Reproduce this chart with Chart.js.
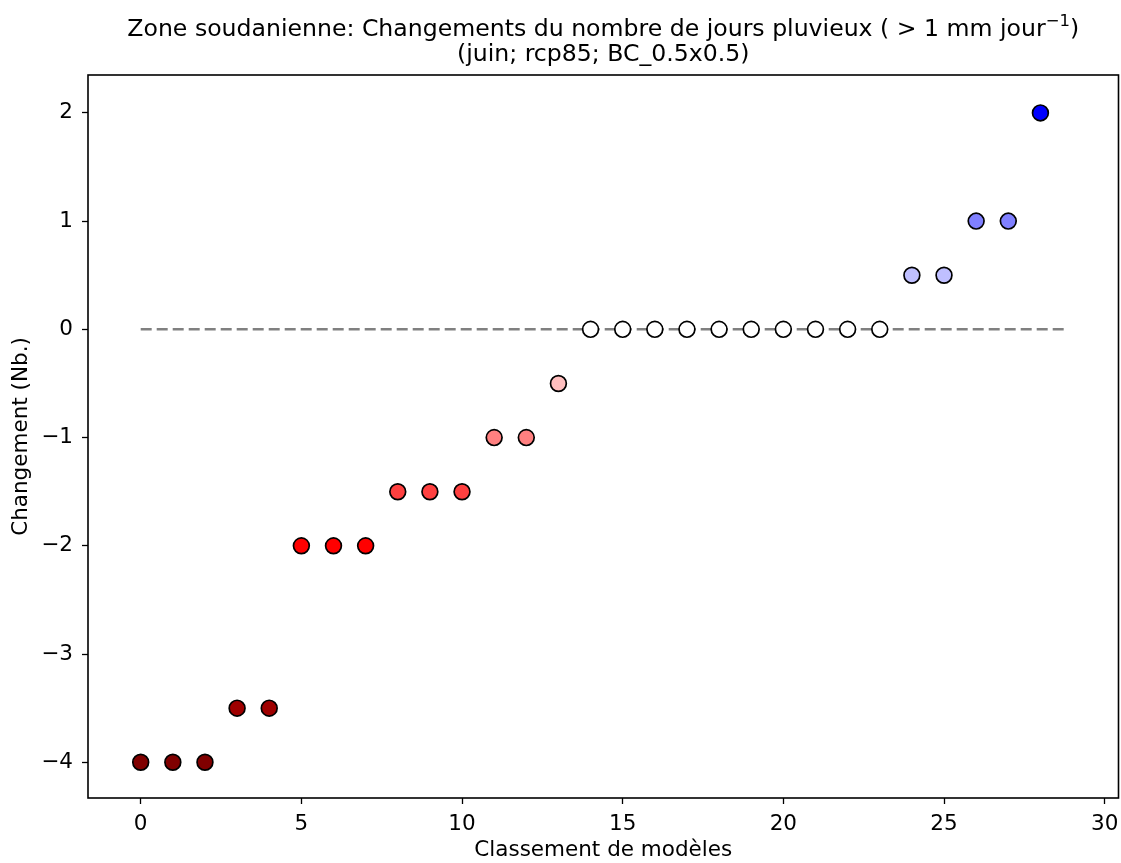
<!DOCTYPE html>
<html>
<head>
<meta charset="utf-8">
<title>Zone soudanienne</title>
<script src="https://cdn.jsdelivr.net/npm/chart.js@4"></script>
<style>
  html, body { margin: 0; padding: 0; background: white; }
  #wrap { width: 1121px; height: 863px; }
</style>
</head>
<body>
<div id="wrap"><canvas id="chart"></canvas></div>
<script>
// model rank (x) and change in number of rainy days (y)
const ranks = [0, 1, 2, 3, 4, 5, 6, 7, 8, 9, 10, 11, 12, 13, 14, 15, 16, 17, 18, 19, 20, 21, 22, 23, 24, 25, 26, 27, 28];
const changes = [-4, -4, -4, -3.5, -3.5, -2, -2, -2, -1.5, -1.5, -1.5, -1, -1, -0.5,
                 0, 0, 0, 0, 0, 0, 0, 0, 0, 0, 0.5, 0.5, 1, 1, 2];
const zeroLineX = [0, 28.88];
const xTicks = [0, 5, 10, 15, 20, 25, 30];
const yTicks = [-4, -3, -2, -1, 0, 1, 2];

// matplotlib "seismic_r", normalised on [-4, 4]
function seismicR(v) {
  let t = 1 - (v + 4) / 8;
  t = Math.max(0, Math.min(1, t));
  const r = [[0, 0], [0.25, 0], [0.5, 1], [0.75, 1], [1, 0.5]];
  const g = [[0, 0], [0.25, 0], [0.5, 1], [0.75, 0], [1, 0]];
  const b = [[0, 0.3], [0.25, 1], [0.5, 1], [0.75, 0], [1, 0]];
  function interp(seg) {
    for (let i = 0; i < seg.length - 1; i++) {
      if (t <= seg[i + 1][0]) {
        const f = (t - seg[i][0]) / (seg[i + 1][0] - seg[i][0]);
        return seg[i][1] + f * (seg[i + 1][1] - seg[i][1]);
      }
    }
    return seg[seg.length - 1][1];
  }
  return 'rgb(' + Math.round(interp(r) * 255) + ',' + Math.round(interp(g) * 255) + ',' + Math.round(interp(b) * 255) + ')';
}

const font = { family: 'DejaVu Sans', size: 21.5 };
const minus = v => String(v).replace('-', '\u2212');

// frame box + two line title (with a real superscript)
const frame = {
  id: 'frame',
  afterDraw(chart) {
    const { ctx, chartArea: a } = chart;
    ctx.save();
    ctx.strokeStyle = '#000';
    ctx.lineWidth = 1.6;
    ctx.strokeRect(a.left, a.top, a.right - a.left, a.bottom - a.top);
    ctx.fillStyle = '#000';
    ctx.textBaseline = 'alphabetic';
    const cx = (a.left + a.right) / 2;
    const main = 'Zone soudanienne: Changements du nombre de jours pluvieux ( > 1 mm jour';
    const sup = '\u22121';
    const end = ')';
    const big = '23.6px "DejaVu Sans"', small = '16.5px "DejaVu Sans"';
    ctx.font = big;
    const w1 = ctx.measureText(main).width, w3 = ctx.measureText(end).width;
    ctx.font = small;
    const w2 = ctx.measureText(sup).width;
    let x = cx - (w1 + w2 + w3) / 2;
    ctx.textAlign = 'left';
    ctx.font = big;
    ctx.fillText(main, x, 36);
    ctx.font = small;
    ctx.fillText(sup, x + w1, 26);
    ctx.font = big;
    ctx.fillText(end, x + w1 + w2, 36);
    ctx.textAlign = 'center';
    ctx.fillText('(juin; rcp85; BC_0.5x0.5)', cx, 61);
    ctx.restore();
  }
};

new Chart(document.getElementById('chart'), {
  data: {
    datasets: [
      {
        type: 'scatter',
        data: ranks.map((r, i) => ({ x: r, y: changes[i] })),
        backgroundColor: changes.map(seismicR),
        borderColor: '#000',
        borderWidth: 1.7,
        pointRadius: 7.9,
        pointHoverRadius: 7.9,
        order: 1
      },
      {
        type: 'line',
        data: zeroLineX.map(x => ({ x: x, y: 0 })),
        borderColor: '#808080',
        borderWidth: 2.5,
        borderDash: [11, 5],
        pointRadius: 0,
        order: 2
      }
    ]
  },
  options: {
    responsive: true,
    maintainAspectRatio: false,
    animation: false,
    layout: { autoPadding: false, padding: { top: 75, right: 2.5, left: 0, bottom: 0 } },
    plugins: { legend: { display: false }, tooltip: { enabled: false } },
    scales: {
      x: {
        type: 'linear',
        min: -1.64,
        max: 30.43,
        afterBuildTicks: s => { s.ticks = xTicks.map(v => ({ value: v })); },
        afterFit: s => { s.height = 65; s.paddingLeft = 0; s.paddingRight = 0; },
        grid: { drawOnChartArea: false, drawTicks: true, tickLength: 6, color: '#000', tickWidth: 1.3 },
        border: { display: false },
        ticks: { color: '#000', font: font, padding: 8, maxRotation: 0, callback: v => minus(v) },
        title: { display: true, text: 'Classement de modèles', color: '#000', font: font, padding: { top: 0, bottom: 0 } }
      },
      y: {
        type: 'linear',
        min: -4.33,
        max: 2.35,
        afterBuildTicks: s => { s.ticks = yTicks.map(v => ({ value: v })); },
        afterFit: s => { s.width = 88; s.paddingTop = 0; s.paddingBottom = 0; },
        grid: { drawOnChartArea: false, drawTicks: true, tickLength: 6, color: '#000', tickWidth: 1.3 },
        border: { display: false },
        ticks: { color: '#000', font: font, padding: 9, callback: v => minus(v) },
        title: { display: true, text: 'Changement (Nb.)', color: '#000', font: font, padding: { top: 9, bottom: 0 } }
      }
    }
  },
  plugins: [frame]
});
</script>
</body>
</html>
